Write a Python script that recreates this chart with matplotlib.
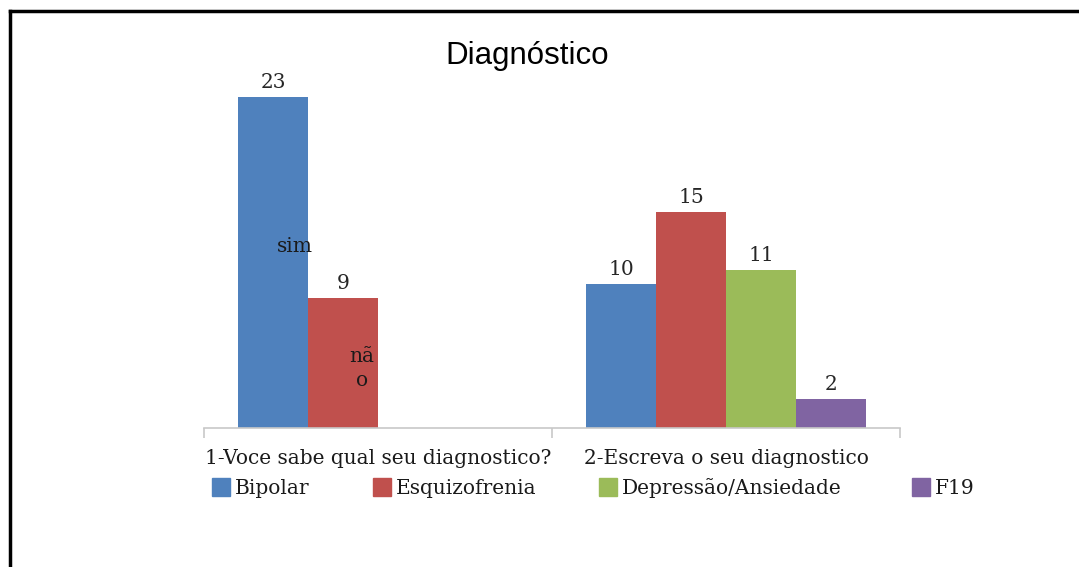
import matplotlib
matplotlib.use("Agg")
import matplotlib.pyplot as plt
from matplotlib.lines import Line2D
import numpy as np

# Survey answers
questions = ["1-Voce sabe qual seu diagnostico?", "2-Escreva o seu diagnostico"]
series_names = ["Bipolar", "Esquizofrenia", "Depressão/Ansiedade", "F19"]
bipolar = [23, 10]
esquizofrenia = [9, 15]
depressao_ansiedade = [np.nan, 11]
f19 = [np.nan, 2]
series_values = [bipolar, esquizofrenia, depressao_ansiedade, f19]
colors = ["#4F81BD", "#C0504D", "#9BBB59", "#8064A2"]

W, H = 1079, 567
serif = "DejaVu Serif"
fig = plt.figure(figsize=(W / 100, H / 100), dpi=100)
ax = fig.add_axes([204 / W, 139 / H, 696 / W, 360 / H])

x = np.arange(len(questions))
width = 70 / 348
offsets = (np.arange(len(series_names)) - 1.5) * width

for s, (name, vals, col) in enumerate(zip(series_names, series_values, colors)):
    ax.bar(x + offsets[s], vals, width, color=col, label=name)
    for q, v in enumerate(vals):
        if np.isnan(v):
            continue
        ax.annotate(f"{v:g}", (x[q] + offsets[s], v), xytext=(0, 10.5),
                    textcoords="offset points", ha="center", va="center",
                    fontsize=14.5, family=serif, color="#262626")

# In-bar answer notes for the yes/no question
ax.text(x[0] + offsets[0] + 22 / 348, 12.6, "sim", ha="center", va="center",
        fontsize=14.5, family=serif, color="#1a1a1a")
ax.text(x[0] + offsets[1] + 19 / 348, 4.15, "nã\no", ha="center", va="center",
        fontsize=14.5, family=serif, color="#1a1a1a", linespacing=1.35)

ax.set_xlim(-0.5, 1.5)
ax.set_ylim(0, 25)
for sp in ["top", "right", "left"]:
    ax.spines[sp].set_visible(False)
ax.spines["bottom"].set_color("#c8c8c8")
ax.spines["bottom"].set_linewidth(1.2)
ax.set_yticks([])
ax.set_xticks([-0.5, 0.5, 1.5])
ax.set_xticklabels([])
ax.tick_params(axis="x", length=7.5, color="#c8c8c8", width=1.2)
for q, label in enumerate(questions):
    ax.annotate(label, (x[q], 0), xycoords=("data", "axes fraction"),
                xytext=(0, -21.6), textcoords="offset points", ha="center",
                va="center", fontsize=14.5, family=serif, color="#1a1a1a")

fig.text(527 / W, 1 - 56 / H, "Diagnóstico", ha="center", va="center",
         fontsize=22.5, family="Liberation Sans", color="black")

# Legend entries placed along one row
legend_x = [212, 373, 599, 912]
for name, col, lx in zip(series_names, colors, legend_x):
    fig.patches.append(plt.Rectangle((lx / W, 1 - 496 / H), 18 / W, 18 / H,
                                     color=col, transform=fig.transFigure))
    fig.text((lx + 23) / W, 1 - 488 / H, name, ha="left", va="center",
             fontsize=14.5, family=serif, color="#1a1a1a")

# Frame lines
fig.add_artist(Line2D([10 / W, 10 / W], [0, 1 - 11 / H], color="black", lw=2.5,
                      transform=fig.transFigure))
fig.add_artist(Line2D([10 / W, 1], [1 - 11 / H, 1 - 11 / H], color="black", lw=2.5,
                      transform=fig.transFigure))

fig.savefig("out.png", dpi=100, facecolor="white")
